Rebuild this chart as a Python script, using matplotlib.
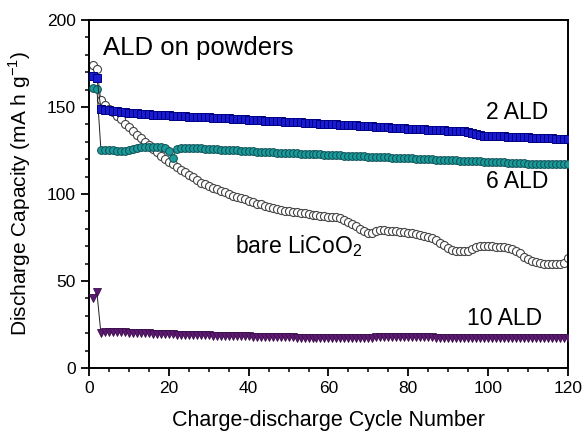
import numpy as np
import matplotlib
matplotlib.use("Agg")
import matplotlib.pyplot as plt
from matplotlib.ticker import MultipleLocator

plt.rcParams['font.family'] = ['Liberation Sans', 'DejaVu Sans']
plt.rcParams['mathtext.fontset'] = 'custom'
plt.rcParams['mathtext.rm'] = 'Liberation Sans'

# cycle numbers
cycles = np.arange(1, 121)

# 2 ALD
ald2 = [168, 166.5, 149, 148.5, 148, 147.8, 147.5, 147.3, 147, 146.8,
        146.6, 146.4, 146.2, 146, 145.8, 145.6, 145.5, 145.4, 145.3, 145.2,
        145, 144.9, 144.8, 144.6, 144.5, 144.4, 144.3, 144.2, 144.1, 144,
        143.9, 143.8, 143.7, 143.6, 143.5, 143.3, 143.2, 143, 142.9, 142.8,
        142.6, 142.5, 142.4, 142.2, 142.1, 142, 141.8, 141.7, 141.5, 141.4,
        141.3, 141.2, 141.1, 141, 140.8, 140.7, 140.6, 140.5, 140.4, 140.2,
        140.1, 140, 139.9, 139.8, 139.6, 139.5, 139.4, 139.3, 139.1, 139,
        138.8, 138.7, 138.6, 138.4, 138.3, 138.2, 138, 137.9, 137.8, 137.6,
        137.5, 137.4, 137.2, 137.1, 137, 136.9, 136.8, 136.6, 136.5, 136.4,
        136.3, 136.2, 136.1, 136, 135.6, 135, 134.3, 133.8, 133.6, 133.5,
        133.4, 133.3, 133.2, 133.1, 133, 132.9, 132.8, 132.7, 132.6, 132.5,
        132.4, 132.3, 132.2, 132.1, 132, 131.9, 131.8, 131.7, 131.6, 131.5]

# 6 ALD
ald6 = [161, 160.5, 125.5, 125.5, 125.2, 125, 124.8, 124.6, 124.8, 125.3,
        126, 126.5, 126.8, 127, 127, 127, 127, 126.9, 126.5, 124.5,
        120.5, 126, 126.5, 126.6, 126.5, 126.4, 126.3, 126.2, 126.1, 126,
        125.8, 125.6, 125.5, 125.4, 125.3, 125.1, 125, 124.9, 124.8, 124.6,
        124.5, 124.4, 124.3, 124.1, 124, 123.9, 123.8, 123.7, 123.6, 123.5,
        123.4, 123.3, 123.2, 123.1, 123, 122.9, 122.8, 122.7, 122.6, 122.5,
        122.4, 122.3, 122.2, 122.1, 122, 121.9, 121.8, 121.7, 121.6, 121.5,
        121.4, 121.3, 121.2, 121.1, 121, 120.9, 120.8, 120.7, 120.6, 120.5,
        120.4, 120.3, 120.2, 120.1, 120, 119.9, 119.8, 119.7, 119.6, 119.5,
        119.4, 119.3, 119.2, 119.1, 119, 118.9, 118.8, 118.7, 118.6, 118.5,
        118.4, 118.3, 118.2, 118.1, 118, 117.9, 117.8, 117.7, 117.6, 117.5,
        117.5, 117.4, 117.4, 117.3, 117.3, 117.2, 117.2, 117.1, 117.1, 117]

# bare LiCoO2
bare = [174, 172, 154, 151, 149, 147, 145, 143, 140.5, 138.5,
        136, 134, 132, 130, 128, 126, 124, 122, 120, 118.5,
        117, 115.5, 114, 112.5, 111, 109.5, 108, 106.5, 105.5, 104.5,
        103.5, 103, 102, 101, 100, 99, 98.5, 97.5, 97, 96,
        95.5, 94.5, 94, 93, 92.5, 92, 91.5, 91, 90.5, 90,
        89.8, 89.5, 89, 88.8, 88.5, 88, 87.8, 87.5, 87.2, 87,
        87, 86.5, 86, 85, 84, 83, 81.5, 80, 78.5, 77.5,
        77.5, 78.5, 79.2, 79.3, 79, 78.8, 78.5, 78.3, 78, 77.8,
        77.5, 77, 76.5, 76, 75.5, 74.7, 73.5, 72, 70.5, 69,
        68, 67.5, 67.2, 67, 67.5, 68.5, 69.5, 70, 70, 70,
        70, 69.8, 69.5, 69.3, 69, 68.5, 67.5, 66, 64, 62.5,
        61.5, 60.8, 60.5, 60, 59.8, 59.5, 59.5, 60, 60.5, 63]

# 10 ALD
ald10 = [40, 43.5, 20, 20.5, 20.8, 20.8, 20.7, 20.6, 20.5, 20.4,
         20.3, 20.2, 20.1, 20, 19.9, 19.8, 19.7, 19.6, 19.5, 19.4,
         19.3, 19.2, 19.1, 19, 19, 18.9, 18.8, 18.8, 18.7, 18.7,
         18.6, 18.6, 18.5, 18.5, 18.4, 18.4, 18.3, 18.3, 18.2, 18.2,
         18.1, 18.1, 18, 18, 17.9, 17.9, 17.8, 17.8, 17.7, 17.7,
         17.6, 17.5, 17.4, 17.3, 17.2, 17.1, 17, 17, 17, 17,
         17.1, 17.1, 17.2, 17.2, 17.3, 17.3, 17.4, 17.4, 17.5, 17.5,
         17.5, 17.6, 17.6, 17.6, 17.7, 17.7, 17.7, 17.8, 17.8, 17.8,
         17.8, 17.7, 17.7, 17.6, 17.6, 17.6, 17.5, 17.5, 17.5, 17.5,
         17.4, 17.4, 17.4, 17.4, 17.3, 17.3, 17.3, 17.3, 17.3, 17.3,
         17.3, 17.3, 17.2, 17.2, 17.2, 17.2, 17.2, 17.2, 17.2, 17.2,
         17.2, 17.2, 17.2, 17.2, 17.2, 17.2, 17.2, 17.2, 17.2, 17.2]

fig = plt.figure(figsize=(5.85, 4.34), dpi=100)
ax = fig.add_axes([0.152, 0.152, 0.819, 0.802])

ax.plot(cycles, bare, '-', color='#555555', lw=0.7, marker='o', ms=5.8,
        mfc='white', mec='#444444', mew=0.8, zorder=2)
ax.plot(cycles, ald6, '-', color='#202020', lw=0.7, marker='o', ms=5.6,
        mfc='#1c9a9a', mec='#0d4f55', mew=0.7, zorder=3)
ax.plot(cycles, ald2, '-', color='#202020', lw=0.7, marker='s', ms=5.4,
        mfc='#1a1ad0', mec='#000080', mew=0.7, zorder=4)
ax.plot(cycles, ald10, '-', color='#202020', lw=0.7, marker='v', ms=6,
        mfc='#5c1a70', mec='#3a0d4a', mew=0.6, zorder=4)

ax.text(3.5, 184, 'ALD on powders', fontsize=18.5, va='center', ha='left')
ax.text(115, 147, '2 ALD', fontsize=16.5, va='center', ha='right')
ax.text(115, 107, '6 ALD', fontsize=16.5, va='center', ha='right')
ax.text(36.5, 70, 'bare LiCoO$_2$', fontsize=16.5, va='center', ha='left')
ax.text(113.5, 28.5, '10 ALD', fontsize=16.5, va='center', ha='right')

ax.set_xlim(0, 120)
ax.set_ylim(0, 200)
ax.xaxis.set_major_locator(MultipleLocator(20))
ax.xaxis.set_minor_locator(MultipleLocator(5))
ax.yaxis.set_major_locator(MultipleLocator(50))
ax.yaxis.set_minor_locator(MultipleLocator(10))
ax.tick_params(which='major', length=6, width=1.3, labelsize=12.5, direction='out')
ax.tick_params(which='minor', length=3, width=1.1, direction='out')
for s in ax.spines.values():
    s.set_linewidth(1.4)

ax.set_xlabel('Charge-discharge Cycle Number', fontsize=15.5, labelpad=10)
ax.set_ylabel('Discharge Capacity (mA h g$^{-1}$)', fontsize=15, labelpad=10)

fig.savefig('out.png', dpi=100)
